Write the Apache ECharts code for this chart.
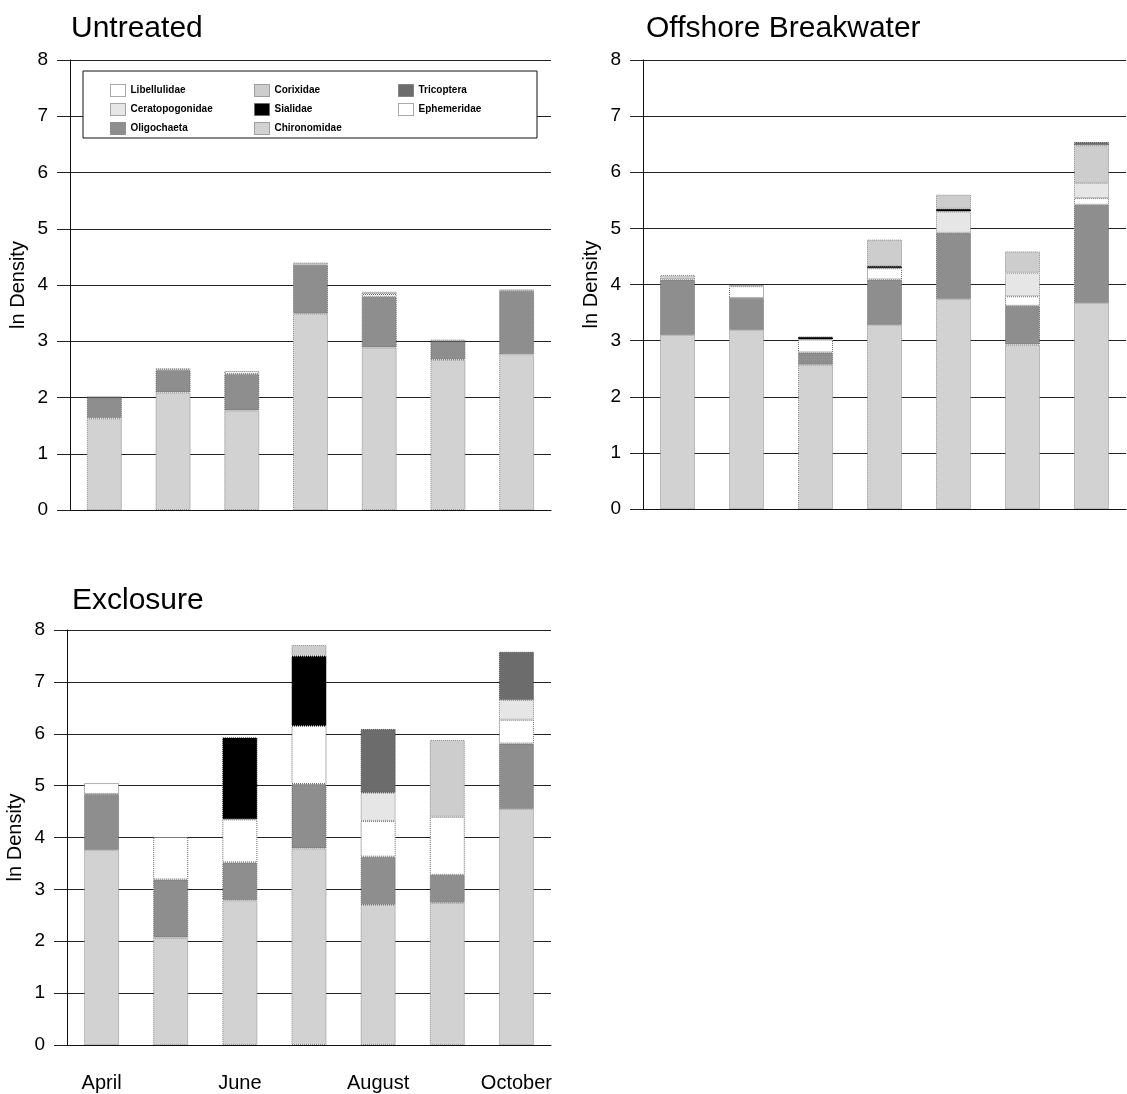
<!DOCTYPE html>
<html>
<head>
<meta charset="utf-8">
<script src="https://cdn.jsdelivr.net/npm/echarts@6/dist/echarts.min.js"></script>
<style>
html,body{margin:0;padding:0;background:#fff;}
#chart{width:1127px;height:1094px;}
</style>
</head>
<body>
<div id="chart"></div>
<script>
// ---- Data ----
const months = ['April', 'May', 'June', 'July', 'August', 'September', 'October'];
const monthTickLabels = ['April', '', 'June', '', 'August', '', 'October'];
const panelTitles = ['Untreated', 'Offshore Breakwater', 'Exclosure'];
const yTicks = [0, 1, 2, 3, 4, 5, 6, 7, 8];
// stacking order bottom -> top
const taxa = ['Chironomidae', 'Oligochaeta', 'Ephemeridae', 'Ceratopogonidae', 'Sialidae', 'Corixidae', 'Libellulidae', 'Tricoptera'];

// Untreated
const untreatedChironomidae    = [1.63, 2.09, 1.77, 3.49, 2.89, 2.67, 2.77];
const untreatedOligochaeta     = [0.37, 0.40, 0.65, 0.87, 0.90, 0.33, 1.13];
const untreatedEphemeridae     = [0, 0, 0.05, 0, 0.05, 0, 0];
const untreatedCeratopogonidae = [0, 0, 0, 0, 0, 0, 0];
const untreatedSialidae        = [0, 0, 0, 0, 0, 0, 0];
const untreatedCorixidae       = [0.02, 0.03, 0, 0.04, 0.04, 0.03, 0.02];
const untreatedLibellulidae    = [0, 0, 0, 0, 0, 0, 0];
const untreatedTricoptera      = [0, 0, 0, 0, 0, 0, 0];

// Offshore Breakwater
const offshoreChironomidae    = [3.10, 3.19, 2.57, 3.28, 3.74, 2.93, 3.67];
const offshoreOligochaeta     = [0.99, 0.57, 0.22, 0.81, 1.18, 0.69, 1.75];
const offshoreEphemeridae     = [0, 0.21, 0.23, 0.20, 0, 0.17, 0.12];
const offshoreCeratopogonidae = [0, 0, 0, 0, 0.38, 0.42, 0.27];
const offshoreSialidae        = [0, 0, 0.05, 0.04, 0.05, 0, 0];
const offshoreCorixidae       = [0.08, 0.02, 0, 0.47, 0.25, 0.38, 0.67];
const offshoreLibellulidae    = [0, 0, 0, 0, 0, 0, 0];
const offshoreTricoptera      = [0, 0, 0, 0, 0, 0, 0.06];

// Exclosure
const exclosureChironomidae    = [3.76, 2.07, 2.79, 3.79, 2.70, 2.74, 4.55];
const exclosureOligochaeta     = [1.08, 1.12, 0.73, 1.24, 0.93, 0.54, 1.26];
const exclosureEphemeridae     = [0.21, 0.82, 0.83, 1.12, 0.69, 1.12, 0.46];
const exclosureCeratopogonidae = [0, 0, 0, 0, 0.54, 0, 0.38];
const exclosureSialidae        = [0, 0, 1.58, 1.35, 0, 0, 0];
const exclosureCorixidae       = [0, 0, 0, 0.21, 0, 1.48, 0];
const exclosureLibellulidae    = [0, 0, 0, 0, 0, 0, 0];
const exclosureTricoptera      = [0, 0, 0, 0, 1.23, 0, 0.93];

const panelData = [
  [untreatedChironomidae, untreatedOligochaeta, untreatedEphemeridae, untreatedCeratopogonidae, untreatedSialidae, untreatedCorixidae, untreatedLibellulidae, untreatedTricoptera],
  [offshoreChironomidae, offshoreOligochaeta, offshoreEphemeridae, offshoreCeratopogonidae, offshoreSialidae, offshoreCorixidae, offshoreLibellulidae, offshoreTricoptera],
  [exclosureChironomidae, exclosureOligochaeta, exclosureEphemeridae, exclosureCeratopogonidae, exclosureSialidae, exclosureCorixidae, exclosureLibellulidae, exclosureTricoptera]
];

// ---- Styles ----
const FONT = 'Liberation Sans, Arial, sans-serif';
const taxonStyle = {
  Chironomidae:    { color: '#d2d2d2', borderColor: '#8a8a8a' },
  Oligochaeta:     { color: '#8e8e8e', borderColor: '#6a6a6a' },
  Ephemeridae:     { color: '#ffffff', borderColor: '#666666' },
  Ceratopogonidae: { color: '#e6e6e6', borderColor: '#8a8a8a' },
  Sialidae:        { color: '#000000', borderColor: '#000000' },
  Corixidae:       { color: '#cdcdcd', borderColor: '#8a8a8a' },
  Libellulidae:    { color: '#ffffff', borderColor: '#666666' },
  Tricoptera:      { color: '#6c6c6c', borderColor: '#4a4a4a' }
};

const grids = [
  { left: 70,  top: 60,  width: 481, height: 450 },
  { left: 643, top: 60,  width: 483, height: 449 },
  { left: 67,  top: 630, width: 484, height: 415 }
];

const xAxes = grids.map((g, i) => ({
  type: 'category',
  gridIndex: i,
  data: i === 2 ? monthTickLabels : months,
  axisLine: { lineStyle: { color: '#111', width: 1 } },
  axisTick: { alignWithLabel: true, length: 10, lineStyle: { color: '#222' } },
  axisLabel: {
    show: i === 2,
    interval: 0,
    margin: 28,
    color: '#000',
    fontSize: 20,
    fontFamily: FONT
  }
}));

const yAxes = grids.map((g, i) => ({
  type: 'value',
  gridIndex: i,
  min: yTicks[0],
  max: yTicks[yTicks.length - 1],
  interval: 1,
  name: 'ln Density',
  nameLocation: 'middle',
  nameGap: 42,
  nameTextStyle: { color: '#000', fontSize: 20, fontFamily: FONT },
  axisLine: { show: true, lineStyle: { color: '#111', width: 1 } },
  axisTick: { show: true, length: 13, lineStyle: { color: '#222' } },
  axisLabel: { margin: 22, color: '#000', fontSize: 19, fontFamily: FONT },
  splitLine: { show: true, lineStyle: { color: '#222', width: 1 } }
}));

const series = [];
panelData.forEach((arrs, p) => {
  taxa.forEach((t, k) => {
    series.push({
      type: 'bar',
      name: t,
      xAxisIndex: p,
      yAxisIndex: p,
      stack: 'panel' + p,
      barWidth: 35,
      data: arrs[k].map(v => (v > 0 ? v : null)),
      itemStyle: {
        color: taxonStyle[t].color,
        borderColor: taxonStyle[t].borderColor,
        borderWidth: 1,
        borderType: 'dotted'
      },
      emphasis: { disabled: true }
    });
  });
});

const legendCommon = {
  orient: 'vertical',
  top: 79,
  itemWidth: 15,
  itemHeight: 12,
  itemGap: 6,
  icon: 'rect',
  z: 20,
  selectedMode: false,
  textStyle: { fontSize: 10, fontWeight: 'bold', color: '#000', fontFamily: FONT },
  itemStyle: { borderColor: '#555', borderWidth: 1, borderType: 'dotted' }
};

const titleStyle = { fontSize: 30, fontWeight: 'normal', color: '#000', fontFamily: FONT };

const option = {
  backgroundColor: '#fff',
  animation: false,
  title: [
    { text: panelTitles[0], left: 66, top: 9, textStyle: titleStyle },
    { text: panelTitles[1], left: 641, top: 9, textStyle: titleStyle },
    { text: panelTitles[2], left: 67, top: 581, textStyle: titleStyle }
  ],
  graphic: [
    {
      type: 'rect',
      z: 10,
      shape: { x: 83, y: 71, width: 454, height: 67 },
      style: { fill: '#fff', stroke: '#111', lineWidth: 1 }
    }
  ],
  legend: [
    Object.assign({}, legendCommon, { left: 105, data: ['Libellulidae', 'Ceratopogonidae', 'Oligochaeta'] }),
    Object.assign({}, legendCommon, { left: 249, data: ['Corixidae', 'Sialidae', 'Chironomidae'] }),
    Object.assign({}, legendCommon, { left: 393, data: ['Tricoptera', 'Ephemeridae'] })
  ],
  grid: grids,
  xAxis: xAxes,
  yAxis: yAxes,
  series: series
};

const chart = echarts.init(document.getElementById('chart'), null, { renderer: 'canvas' });
chart.setOption(option);
</script>
</body>
</html>
